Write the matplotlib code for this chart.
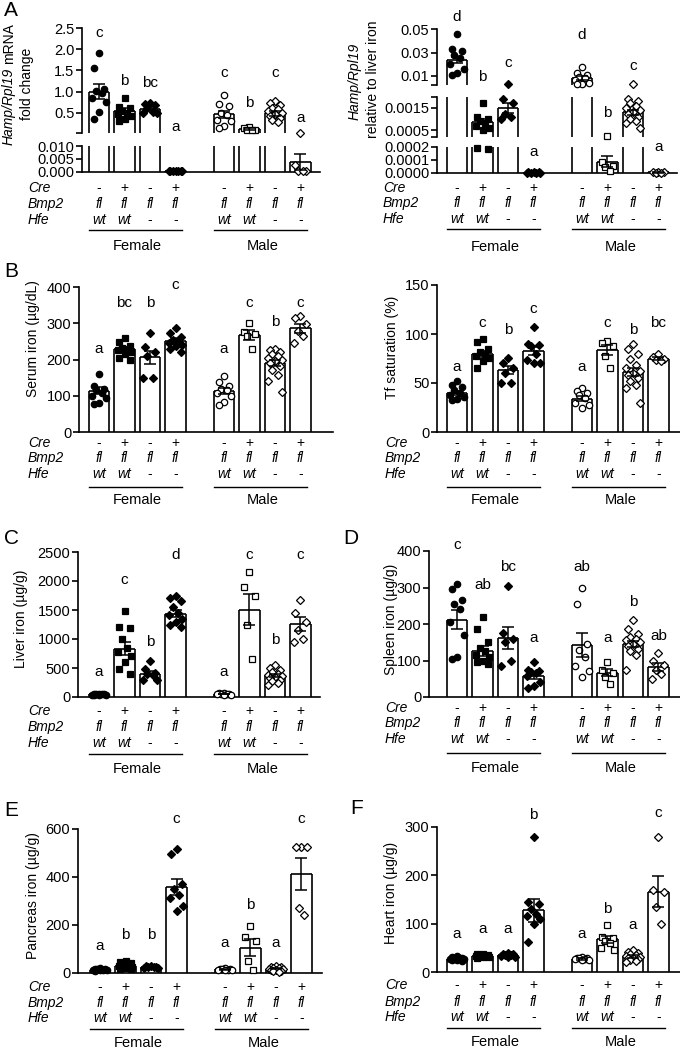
import numpy as np
import matplotlib
matplotlib.use('Agg')
import matplotlib.pyplot as plt
from matplotlib.transforms import blended_transform_factory

plt.rcParams['font.family'] = ['Liberation Sans', 'DejaVu Sans']

# ---- groups / genotype table ----
pos = [0, 1, 2, 3, 4.9, 5.9, 6.9, 7.9]
markers = ['o', 's', 'D', 'D', 'o', 's', 'D', 'D']
filled = [True, True, True, True, False, False, False, False]
cre = ['-', '+', '-', '+', '-', '+', '-', '+']
bmp2 = ['fl'] * 8
hfe = ['wt', 'wt', '-', '-', 'wt', 'wt', '-', '-']
sexes = ['Female', 'Male']

# ---- A left: Hamp/Rpl19 mRNA fold change ----
fc_mean = [1.0, 0.55, 0.58, 0.0002, 0.46, 0.11, 0.48, 0.0037]
fc_sem = [0.17, 0.05, 0.04, 0.00005, 0.09, 0.015, 0.05, 0.0031]
fc_pts = [[1.92, 1.55, 1.05, 1.02, 0.97, 0.85, 0.75, 0.52, 0.35],
          [0.85, 0.63, 0.6, 0.55, 0.5, 0.47, 0.42, 0.35, 0.3],
          [0.73, 0.7, 0.67, 0.6, 0.52, 0.48, 0.5],
          [0.0004, 0.0003, 0.0002, 0.0002, 0.0001, 0.0001, 0.0001],
          [0.92, 0.7, 0.66, 0.5, 0.45, 0.33, 0.3, 0.18, 0.13],
          [0.16, 0.13, 0.1, 0.09, 0.08],
          [0.78, 0.72, 0.68, 0.62, 0.58, 0.55, 0.5, 0.47, 0.43, 0.38, 0.33, 0.28],
          [0.015, 0.0025, 0.0003, 0.0002, 0.0001]]
fc_let = ['c', 'b', 'bc', 'a', 'c', 'b', 'c', 'a']
fc_let_y = [2.38, 1.24, 1.2, 0.15, 1.45, 0.74, 1.45, 0.38]

# ---- A right: Hamp/Rpl19 relative to liver iron ----
li_mean = [0.0235, 0.00088, 0.0015, 0.000001, 0.0078, 0.000086, 0.0013, 0.000002]
li_sem = [0.0028, 0.00012, 0.00022, 0.0000005, 0.0016, 0.000045, 0.00011, 0.0000005]
li_pts = [[0.046, 0.033, 0.031, 0.028, 0.025, 0.02, 0.016, 0.012, 0.011],
          [0.0017, 0.0011, 0.001, 0.0009, 0.0008, 0.0007, 0.0006, 0.0005, 0.00019, 0.00018],
          [0.0026, 0.0019, 0.0017, 0.0012, 0.0011, 0.001],
          [0.000003, 0.000002, 0.000002, 0.000001, 0.000001, 0.0000005, 0.0000005],
          [0.0175, 0.012, 0.011, 0.009, 0.008, 0.006, 0.004, 0.003, 0.0025],
          [0.00025, 0.00008, 0.00005, 0.00004, 0.00001],
          [0.0028, 0.0019, 0.0018, 0.0017, 0.0016, 0.0015, 0.0014, 0.0013, 0.0012,
           0.0011, 0.001, 0.0009, 0.0008, 0.0006],
          [0.000003, 0.000002, 0.000002, 0.000001, 0.000001]]
li_let = ['d', 'b', 'c', 'a', 'd', 'b', 'c', 'a']
li_let_y = [0.061, 0.0088, 0.0207, 0.00016, 0.045, 0.00127, 0.0184, 0.0002]

# ---- B: serum iron ----
serum_mean = [114, 228, 206, 251, 113, 268, 190, 286]
serum_sem = [9, 6, 18, 7, 9, 13, 8, 12]
serum_pts = [[160, 128, 120, 115, 108, 100, 95, 80, 78],
             [258, 248, 238, 232, 228, 225, 222, 215, 205, 198],
             [273, 235, 220, 210, 150, 148],
             [287, 272, 262, 255, 250, 246, 240, 236, 228, 222],
             [155, 138, 128, 120, 115, 108, 100, 82, 75],
             [300, 276, 270, 265, 230],
             [230, 226, 220, 215, 210, 205, 200, 195, 190, 182, 170, 158, 140, 110],
             [320, 315, 298, 280, 264, 245]]
serum_let = ['a', 'bc', 'b', 'c', 'a', 'c', 'b', 'c']
serum_let_y = [228, 355, 355, 405, 228, 355, 304, 355]

# ---- B: Tf saturation ----
tf_mean = [40, 80, 63, 83, 34, 84, 61, 75]
tf_sem = [2, 3, 4, 4, 2.5, 5, 4, 1.5]
tf_pts = [[52, 48, 46, 43, 40, 38, 36, 34, 33],
          [95, 92, 85, 82, 80, 78, 76, 72, 65],
          [76, 70, 65, 60, 50, 50],
          [107, 90, 89, 88, 80, 73, 70, 70],
          [45, 42, 40, 38, 35, 30, 28, 25],
          [93, 91, 88, 78, 65],
          [90, 85, 80, 75, 68, 65, 62, 60, 58, 55, 52, 48, 45, 30],
          [80, 77, 75, 73, 72]]
tf_let = ['a', 'c', 'b', 'c', 'a', 'c', 'b', 'bc']
tf_let_y = [66, 111, 104, 126, 66, 111, 104, 111]

# ---- C: liver iron ----
liver_mean = [45, 835, 400, 1437, 50, 1506, 374, 1253]
liver_sem = [5, 110, 45, 55, 5, 267, 25, 120]
liver_pts = [[60, 55, 50, 48, 45, 42, 40, 35, 30],
             [1480, 1210, 1190, 1000, 850, 780, 700, 600, 480, 400],
             [620, 480, 420, 400, 380, 300, 290],
             [1750, 1700, 1650, 1550, 1450, 1420, 1350, 1300, 1250, 1200],
             [70, 65, 60, 55, 50, 45, 40, 35],
             [2155, 1900, 1740, 1240, 660],
             [550, 500, 460, 430, 400, 380, 370, 350, 330, 300, 280, 250, 200],
             [1680, 1450, 1300, 1150, 1000, 950]]
liver_let = ['a', 'c', 'b', 'd', 'a', 'c', 'b', 'c']
liver_let_y = [431, 2011, 948, 2443, 431, 2443, 977, 2443]

# ---- D: spleen iron ----
spleen_mean = [212, 126, 162, 58, 143, 67, 145, 82]
spleen_sem = [25, 13, 30, 8, 33, 10, 9, 10]
spleen_pts = [[310, 295, 265, 255, 240, 205, 170, 110, 105],
              [220, 185, 150, 135, 125, 115, 110, 100, 95, 90],
              [305, 175, 160, 150, 100, 85],
              [95, 75, 72, 68, 65, 58, 40, 30, 25],
              [300, 255, 145, 130, 110, 85, 70, 55],
              [95, 75, 65, 55, 35],
              [210, 185, 172, 165, 160, 155, 150, 145, 140, 132, 125, 115, 75],
              [120, 100, 88, 75, 62, 50]]
spleen_let = ['c', 'ab', 'bc', 'a', 'ab', 'a', 'b', 'ab']
spleen_let_y = [416, 307, 355, 162, 355, 162, 259, 167]

# ---- E: pancreas iron ----
panc_mean = [14, 30, 25, 358, 15, 105, 18, 412]
panc_sem = [1.5, 4, 2, 35, 1.5, 35, 2, 68]
panc_pts = [[20, 18, 16, 15, 14, 13, 12, 11, 10],
            [50, 45, 40, 35, 30, 28, 25, 20, 18, 15],
            [30, 28, 27, 25, 24, 22, 20],
            [518, 497, 372, 350, 326, 312, 281, 257],
            [20, 18, 16, 15, 14, 13, 12, 11],
            [194, 150, 135, 49, 14],
            [30, 27, 25, 22, 20, 18, 16, 14, 12, 10, 8, 6],
            [525, 525, 525, 271, 240]]
panc_let = ['a', 'b', 'b', 'c', 'a', 'b', 'a', 'c']
panc_let_y = [111, 157, 157, 643, 125, 285, 125, 643]

# ---- F: heart iron ----
heart_mean = [27, 33, 35, 128, 27, 68, 32, 166]
heart_sem = [1.2, 1.5, 1.5, 24, 1.5, 7, 2.5, 32]
heart_pts = [[33, 31, 30, 29, 28, 27, 26, 25, 24, 22],
             [38, 37, 36, 35, 34, 33, 32, 31, 30],
             [40, 38, 37, 36, 35, 34, 32, 31],
             [280, 145, 140, 130, 120, 115, 110, 100, 62],
             [32, 30, 29, 28, 27, 26, 25, 24],
             [97, 72, 70, 65, 60, 50, 45],
             [45, 42, 40, 38, 35, 33, 31, 30, 28, 26, 24, 22, 20],
             [280, 170, 165, 135, 100]]
heart_let = ['a', 'a', 'a', 'b', 'a', 'b', 'a', 'c']
heart_let_y = [78, 88, 88, 324, 78, 131, 97, 329]

# ---------------------------------------------------------------
W, H = 680, 1050
SP = 25.5          # pixels per group step
BW = 0.8           # bar width
FS = 10
fig = plt.figure(figsize=(W / 100, H / 100), dpi=100)
renderer = fig.canvas.get_renderer()
jit = [0, -0.2, 0.2, -0.1, 0.1, -0.27, 0.27]
msize = {'o': 4.6, 's': 4.4, 'D': 3.9}


def px_rect(l, t, r, b):
    return [l / W, 1 - b / H, (r - l) / W, (b - t) / H]


def style_ax(ax, bottom):
    ax.spines['top'].set_visible(False)
    ax.spines['right'].set_visible(False)
    ax.spines['left'].set_linewidth(1.2)
    if bottom:
        ax.spines['bottom'].set_linewidth(1.2)
    else:
        ax.spines['bottom'].set_visible(False)
    ax.set_xticks([])
    ax.tick_params(axis='y', length=4, width=1.2, labelsize=FS + 0.5, pad=1.5)
    ax.patch.set_alpha(0)


def draw_bars(ax, lo, hi, means, sems):
    # white faces, then outlines only where the bar is inside this segment
    ax.bar(pos, means, width=BW, color='white', edgecolor='none', zorder=2)
    for p, m, s in zip(pos, means, sems):
        if m > lo:
            y0, y1 = lo, min(m, hi)
            ax.vlines([p - BW / 2, p + BW / 2], y0, y1, color='black',
                      lw=1.2, zorder=2.5)
            if m <= hi:
                ax.hlines(m, p - BW / 2, p + BW / 2, color='black',
                          lw=1.2, zorder=2.5)
        if m + s >= lo and m - s <= hi:
            ax.errorbar([p], [m], yerr=[s], fmt='none', ecolor='black',
                        elinewidth=1.1, capsize=4, capthick=1.1, zorder=4)


def panel(l, r, f1, segs, means, sems, pts, lets, let_y):
    """segs: list of (top_px, bottom_px, lo, hi, ticks, ticklabels), top to bottom"""
    axes = []
    for k, (st, sb, lo, hi, tk, tl) in enumerate(segs):
        ax = fig.add_axes(px_rect(l, st, r, sb))
        ax.set_xlim(-(f1 - l) / SP, (r - f1) / SP)
        ax.set_ylim(lo, hi)
        style_ax(ax, k == len(segs) - 1)
        ax.set_yticks(tk)
        ax.set_yticklabels(tl)
        draw_bars(ax, lo, hi, means, sems)
        axes.append((ax, lo, hi))

    def pick(v):
        for ax, lo, hi in axes[::-1]:
            if lo <= v <= hi:
                return ax
        return axes[0][0]

    for i in range(8):
        vals = sorted(pts[i], reverse=True)
        for j, v in enumerate(vals):
            pick(v).plot(pos[i] + jit[j % len(jit)], v, linestyle='none',
                         marker=markers[i], ms=msize[markers[i]],
                         mfc='black' if filled[i] else 'white', mec='black',
                         mew=0.9, clip_on=False, zorder=3)
        pick(let_y[i]).text(pos[i], let_y[i], lets[i], ha='center',
                            va='center', fontsize=FS + 1)
    return axes[-1][0], segs[-1][1]


def table(ax, bottom, label_x, offs=(13, 29, 45, 56, 71)):
    tr = blended_transform_factory(ax.transData, fig.transFigure)
    rows = [('Cre', cre), ('Bmp2', bmp2), ('Hfe', hfe)]
    for (name, vals), off in zip(rows, offs[:3]):
        y = 1 - (bottom + off) / H
        fig.text(label_x / W, y, name, ha='left', va='center',
                 fontsize=FS, style='italic')
        for p, v in zip(pos, vals):
            ax.text(p, y, v, transform=tr, ha='center', va='center',
                    fontsize=FS, style='normal' if v in '+-' else 'italic')
    yl = 1 - (bottom + offs[3]) / H
    ys = 1 - (bottom + offs[4]) / H
    for g, sex in enumerate(sexes):
        g0, g3 = pos[4 * g], pos[4 * g + 3]
        ax.plot([g0 - 0.4, g3 + 0.25], [yl, yl], color='black', lw=1.0,
                transform=tr, clip_on=False)
        ax.text((g0 + g3) / 2, ys, sex, transform=tr, ha='center',
                va='center', fontsize=FS + 0.5)


def ylab(x, y, s):
    fig.text(x / W, 1 - y / H, s, rotation=90, ha='center', va='center',
             fontsize=FS)


def ylab_mixed(x, yc, parts, gap=3):
    # parts read bottom-to-top: list of (text, style)
    texts = [fig.text(x / W, 0.5, s, rotation=90, ha='center', va='bottom',
                      fontsize=FS, style=st) for s, st in parts]
    hs = [t.get_window_extent(renderer).height for t in texts]
    total = sum(hs) + gap * (len(hs) - 1)
    y0 = (H - yc) - total / 2
    for t, h in zip(texts, hs):
        t.set_y(y0 / H)
        y0 += h + gap


def plabel(x, y, s):
    fig.text(x / W, 1 - y / H, s, ha='center', va='center', fontsize=15)


# A left
ax, b = panel(82, 320, 99,
              [(28.3, 133.3, 0.01, 2.5, [0.01, 0.5, 1.0, 1.5, 2.0, 2.5],
                ['', '0.5', '1.0', '1.5', '2.0', '2.5']),
               (146, 171.7, 0, 0.010, [0, 0.005, 0.010],
                ['0.000', '0.005', '0.010'])],
              fc_mean, fc_sem, fc_pts, fc_let, fc_let_y)
table(ax, b, 28, (16, 32, 48, 58, 74))
ylab_mixed(9, 84, [('Hamp/Rpl19', 'italic'), ('mRNA', 'normal')])
ylab(27, 84, 'fold change')

# A right
ax, b = panel(437, 677, 457,
              [(29.3, 85, 0.002, 0.05, [0.002, 0.01, 0.03, 0.05],
                ['', '0.01', '0.03', '0.05']),
               (96.7, 136.7, 0.0002, 0.002, [0.0002, 0.0005, 0.0015, 0.002],
                ['', '0.0005', '0.0015', '']),
               (146.7, 172.7, 0, 0.0002, [0, 0.0001, 0.0002],
                ['0.0000', '0.0001', '0.0002'])],
              li_mean, li_sem, li_pts, li_let, li_let_y)
table(ax, b, 383, (15, 30, 46, 56, 74))
ylab_mixed(355, 81, [('Hamp/Rpl19', 'italic')])
ylab(373, 79, 'relative to liver iron')

# B
ax, b = panel(79, 333, 99, [(287, 432, 0, 400, [0, 100, 200, 300, 400],
                             ['0', '100', '200', '300', '400'])],
              serum_mean, serum_sem, serum_pts, serum_let, serum_let_y)
table(ax, b, 28, (11, 26, 42, 55, 68))
ylab(33, 339, 'Serum iron (µg/dL)')

ax, b = panel(437, 680, 457, [(285, 432, 0, 150, [0, 50, 100, 150],
                               ['0', '50', '100', '150'])],
              tf_mean, tf_sem, tf_pts, tf_let, tf_let_y)
table(ax, b, 385, (11, 26, 42, 55, 68))
ylab(392, 347, 'Tf saturation (%)')

# C
ax, b = panel(78, 320, 99, [(552, 697, 0, 2500, [0, 500, 1000, 1500, 2000, 2500],
                             ['0', '500', '1000', '1500', '2000', '2500'])],
              liver_mean, liver_sem, liver_pts, liver_let, liver_let_y)
table(ax, b, 28, (14, 30, 46, 57, 72))
ylab(21, 619, 'Liver iron (µg/g)')

# D
ax, b = panel(429, 680, 457, [(551, 697, 0, 400, [0, 100, 200, 300, 400],
                               ['0', '100', '200', '300', '400'])],
              spleen_mean, spleen_sem, spleen_pts, spleen_let, spleen_let_y)
table(ax, b, 385, (11, 26, 42, 56, 71))
ylab(391, 619, 'Spleen iron (µg/g)')

# E
ax, b = panel(78, 322, 100, [(829, 973, 0, 600, [0, 200, 400, 600],
                              ['0', '200', '400', '600'])],
              panc_mean, panc_sem, panc_pts, panc_let, panc_let_y)
table(ax, b, 28, (14, 30, 45, 56, 70))
ylab(33, 896, 'Pancreas iron (µg/g)')

# F
ax, b = panel(437, 680, 457, [(827, 972, 0, 300, [0, 100, 200, 300],
                               ['0', '100', '200', '300'])],
              heart_mean, heart_sem, heart_pts, heart_let, heart_let_y)
table(ax, b, 385, (13, 30, 45, 56, 70))
ylab(391, 893, 'Heart iron (µg/g)')

for s, x, y in [('A', 11, 11), ('B', 11, 272), ('C', 11, 539), ('D', 351, 539),
                ('E', 11, 810), ('F', 357, 808)]:
    plabel(x, y, s)

fig.savefig('out.png', dpi=100)
